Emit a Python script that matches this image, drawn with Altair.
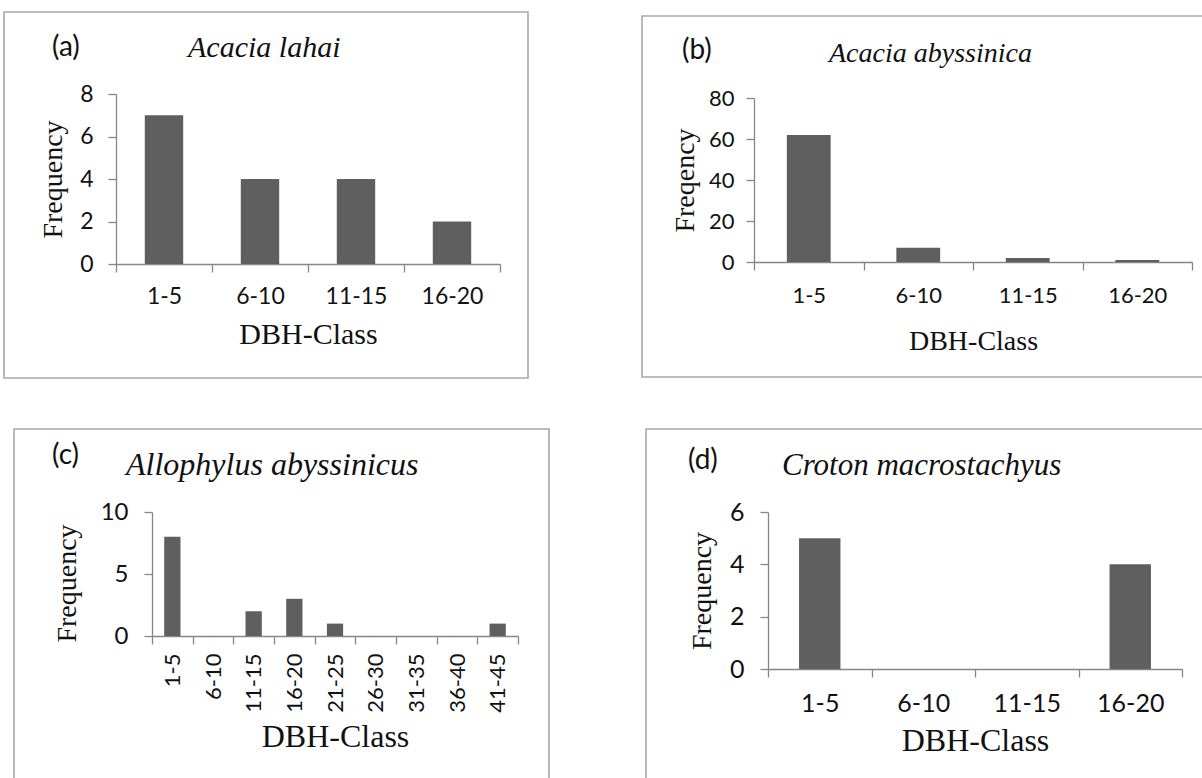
import altair as alt
import pandas as pd

# ---------------- data ----------------
classes4 = ["1-5", "6-10", "11-15", "16-20"]
classes9 = ["1-5", "6-10", "11-15", "16-20", "21-25", "26-30", "31-35", "36-40", "41-45"]
freq_a = [7, 4, 4, 2]
freq_b = [62, 7, 2, 1]
freq_c = [8, 0, 2, 3, 1, 0, 0, 0, 1]
freq_d = [5, 0, 0, 4]

letters = ["(a)", "(b)", "(c)", "(d)"]
species = ["Acacia lahai", "Acacia abyssinica", "Allophylus abyssinicus", "Croton macrostachyus"]
y_titles = ["Frequency", "Freqency", "Frequency", "Frequency"]
x_title = "DBH-Class"
y_maxes = [8, 80, 10, 6]
y_ticks = [[0, 2, 4, 6, 8], [0, 20, 40, 60, 80], [0, 5, 10], [0, 2, 4, 6]]

# ---------------- styling / layout ----------------
W, H = 1202, 778
AXIS_C = "#868686"
TEXT_C = "#111111"
FRAME_C = "#a8a8a8"
BAR_C = "#5f5f5f"

layout = [
    dict(frame=(4, 12, 528, 378), xr=(116, 500), yr=(264, 94), xl_fs=23, xl_pad=13, xl_angle=0,
         yl_fs=23, yl_pad=15, xt_fs=30, xt_y=79, yt_x=-55, yt_y=None,
         letter=(52, 56), title=(188, 57), title_fs=30),
    dict(frame=(642, 16, 1215, 377), xr=(754, 1192), yr=(262, 98), xl_fs=22, xl_pad=15, xl_angle=0,
         yl_fs=22, yl_pad=12, xt_fs=28, xt_y=87, yt_x=-61, yt_y=None,
         letter=(682, 59), title=(829, 62), title_fs=28),
    dict(frame=(14, 429, 549, 790), xr=(152, 518), yr=(636, 512), xl_fs=22, xl_pad=9, xl_angle=270,
         yl_fs=24, yl_pad=16, xt_fs=32, xt_y=110, yt_x=-77, yt_y=583,
         letter=(52, 464), title=(126, 475), title_fs=32),
    dict(frame=(646, 429, 1215, 790), xr=(768, 1182), yr=(669, 512), xl_fs=25, xl_pad=14, xl_angle=0,
         yl_fs=25, yl_pad=16, xt_fs=32, xt_y=81, yt_x=-58, yt_y=None,
         letter=(688, 469), title=(782, 475), title_fs=31),
]

cats_list = [classes4, classes4, classes9, classes4]
vals_list = [freq_a, freq_b, freq_c, freq_d]

layers = []
for i in range(4):
    g = layout[i]
    cats = cats_list[i]
    df = pd.DataFrame({"DBH": cats, "Freq": vals_list[i]})

    fx0, fy0, fx1, fy1 = g["frame"]
    frame = alt.Chart(pd.DataFrame({"f": [0]})).mark_rect(
        fill="transparent", stroke=FRAME_C, strokeWidth=1.6
    ).encode(x=alt.value(fx0), x2=alt.value(fx1), y=alt.value(fy0), y2=alt.value(fy1))

    y_axis_kw = dict(
        orient="left", offset=-g["xr"][0], values=y_ticks[i], tickSize=8, tickWidth=1.3,
        tickColor=AXIS_C, domainColor=AXIS_C, domainWidth=1.3, grid=False,
        labelFont="Lato", labelFontSize=g["yl_fs"], labelColor=TEXT_C, labelPadding=g["yl_pad"],
        title=y_titles[i], titleFont="Liberation Serif", titleFontSize=28, titleFontWeight="normal",
        titleColor=TEXT_C, titleBaseline="alphabetic", titleX=g["yt_x"],
    )
    if g["yt_y"] is not None:
        y_axis_kw["titleY"] = g["yt_y"]

    x_axis = alt.Axis(
        orient="bottom", offset=g["yr"][0] - H, tickBand="extent", tickSize=8, tickWidth=1.3,
        tickColor=AXIS_C, domainColor=AXIS_C, domainWidth=1.3, grid=False,
        labelAngle=g["xl_angle"], labelFont="Lato", labelFontSize=g["xl_fs"], labelColor=TEXT_C,
        labelPadding=g["xl_pad"], labelOverlap=False,
        title=x_title, titleFont="Liberation Serif", titleFontSize=g["xt_fs"], titleFontWeight="normal",
        titleColor=TEXT_C, titleBaseline="alphabetic", titleY=g["xt_y"],
    )

    bars = alt.Chart(df).mark_bar(
        width=alt.RelativeBandSize(0.4), color=BAR_C
    ).encode(
        x=alt.X("DBH:N", sort=cats,
                scale=alt.Scale(domain=cats, range=list(g["xr"]), paddingInner=0, paddingOuter=0),
                axis=x_axis),
        y=alt.Y("Freq:Q", scale=alt.Scale(domain=[0, y_maxes[i]], range=list(g["yr"]), nice=False),
                axis=alt.Axis(**y_axis_kw)),
    )

    letter = alt.Chart(pd.DataFrame({"t": [letters[i]]})).mark_text(
        font="Lato", fontSize=28, align="left", baseline="alphabetic", color=TEXT_C
    ).encode(text="t:N", x=alt.value(g["letter"][0]), y=alt.value(g["letter"][1]))

    title = alt.Chart(pd.DataFrame({"t": [species[i]]})).mark_text(
        font="Liberation Serif", fontStyle="italic", fontSize=g["title_fs"], align="left",
        baseline="alphabetic", color=TEXT_C
    ).encode(text="t:N", x=alt.value(g["title"][0]), y=alt.value(g["title"][1]))

    layers += [frame, bars, letter, title]

chart = alt.layer(*layers).resolve_scale(
    x="independent", y="independent"
).resolve_axis(
    x="independent", y="independent"
).properties(
    width=W, height=H, autosize=alt.AutoSizeParams(type="none"), padding=0, background="white"
).configure_view(strokeWidth=0)

chart.save("out.html", embed_options={"renderer": "svg", "actions": False})
